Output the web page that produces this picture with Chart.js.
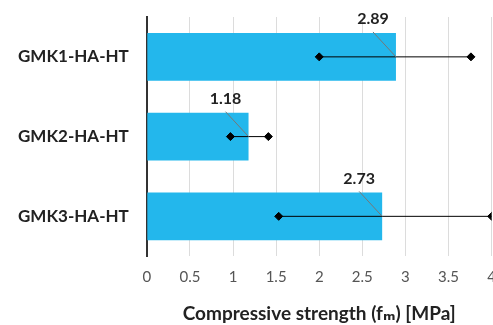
<!DOCTYPE html>
<html>
<head>
<meta charset="utf-8">
<script src="https://cdn.jsdelivr.net/npm/chart.js@4/dist/chart.umd.min.js"></script>
<style>
  html, body { margin: 0; padding: 0; background: #fff; overflow: hidden; }
  #wrap { width: 493px; height: 325px; overflow: hidden; }
</style>
</head>
<body>
<div id="wrap"><canvas id="c" width="508" height="325"></canvas></div>
<script>
// Mixes and their mean compressive strength (MPa)
const categories = ['GMK1-HA-HT', 'GMK2-HA-HT', 'GMK3-HA-HT'];
const strength = [2.89, 1.18, 2.73];
// Range of the individual results for each mix
const rangeLow = [2.0, 0.97, 1.53];
const rangeHigh = [3.76, 1.41, 4.0];
const xTicks = [0, 0.5, 1, 1.5, 2, 2.5, 3, 3.5, 4];

const FONT = "'Lato', 'DejaVu Sans', sans-serif";

const rangeSets = categories.map((cat, i) => ({
  type: 'line',
  data: [{ x: rangeLow[i], y: cat }, { x: rangeHigh[i], y: cat }],
  borderColor: '#000',
  borderWidth: 1,
  backgroundColor: '#000',
  pointStyle: 'rectRot',
  pointRadius: 4,
  pointBorderWidth: 1,
  fill: false,
  order: 1
}));

// value labels above each bar end, joined to the bar by a thin leader line
const valueLabels = {
  id: 'valueLabels',
  afterDatasetsDraw(chart) {
    const ctx = chart.ctx;
    const meta = chart.getDatasetMeta(0);
    ctx.save();
    meta.data.forEach((bar, i) => {
      const top = bar.y - bar.height / 2;
      const lx = bar.x - 23;
      ctx.strokeStyle = '#777';
      ctx.lineWidth = 1;
      ctx.beginPath();
      ctx.moveTo(lx, top - 1);
      ctx.lineTo(bar.x, bar.y);
      ctx.stroke();
      ctx.fillStyle = '#222';
      ctx.font = 'bold 16px ' + FONT;
      ctx.textAlign = 'center';
      ctx.textBaseline = 'middle';
      ctx.fillText(strength[i].toFixed(2), lx, top - 14);
    });
    ctx.restore();
  }
};

new Chart(document.getElementById('c'), {
  type: 'bar',
  data: {
    labels: categories,
    datasets: [{
      type: 'bar',
      data: strength,
      backgroundColor: 'rgb(35,183,236)',
      borderWidth: 0,
      barPercentage: 0.6,
      categoryPercentage: 1.0,
      order: 2
    }].concat(rangeSets)
  },
  options: {
    indexAxis: 'y',
    responsive: false,
    animation: false,
    devicePixelRatio: 1,
    layout: { padding: { top: 17, left: 0, right: 0, bottom: 0 } },
    plugins: { legend: { display: false }, tooltip: { enabled: false } },
    scales: {
      x: {
        type: 'linear',
        min: 0,
        max: 4,
        afterBuildTicks(axis) { axis.ticks = xTicks.map(v => ({ value: v })); },
        grid: { color: '#dcdcdc', lineWidth: 1, drawTicks: false },
        border: { display: false },
        ticks: {
          color: '#555',
          font: { family: FONT, size: 15 },
          padding: 12,
          callback: v => String(v)
        },
        title: {
          display: true,
          text: 'Compressive strength (fₘ) [MPa]',
          color: '#222',
          font: { family: FONT, size: 19, weight: 'bold' },
          padding: { top: 4, bottom: 0 }
        }
      },
      y: {
        type: 'category',
        offset: true,
        grid: { display: false, drawTicks: false },
        border: { display: true, color: '#333', width: 2 },
        ticks: { color: '#222', font: { family: FONT, size: 17, weight: 'bold' }, padding: 18 },
        // the category axis needs no extra room above or below the plot
        afterFit(axis) { axis.paddingTop = 0; axis.paddingBottom = 0; }
      }
    }
  },
  plugins: [valueLabels]
});
</script>
</body>
</html>
